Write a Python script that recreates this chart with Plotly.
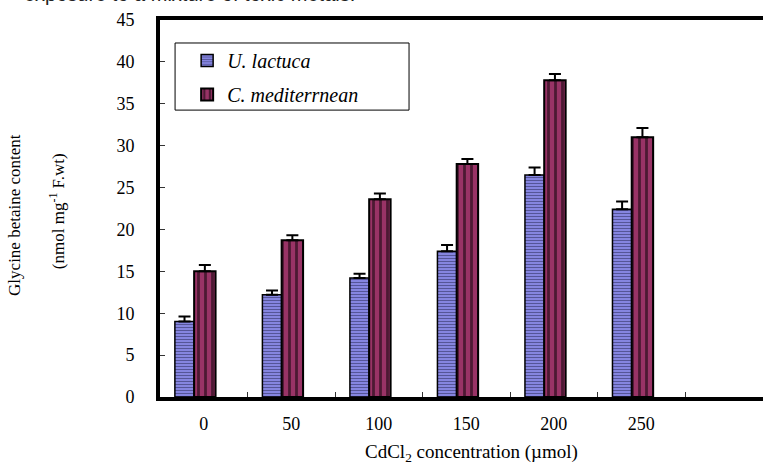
import plotly.graph_objects as go

# data
conc = ["0", "50", "100", "150", "200", "250"]
ulva = [9.0, 12.2, 14.2, 17.4, 26.5, 22.4]
ulva_err = [0.6, 0.5, 0.5, 0.75, 0.9, 0.95]
cystoseira = [15.0, 18.7, 23.6, 27.8, 37.8, 31.0]
cysto_err = [0.75, 0.6, 0.7, 0.6, 0.75, 1.1]

serif = "Liberation Serif"

fig = go.Figure([
    go.Bar(x=conc, y=ulva, name="U. lactuca",
           offset=-0.33, width=0.22,
           marker=dict(color="#8080dd", line=dict(color="black", width=1.5),
                       pattern=dict(shape="-", fgcolor="#262650",
                                    bgcolor="#8585e0", size=3, solidity=0.35)),
           error_y=dict(type="data", array=ulva_err, arrayminus=[0] * 6,
                        color="black", thickness=2, width=6),
           legendgroup="a"),
    go.Bar(x=conc, y=cystoseira, name="C. mediterrnean",
           offset=-0.11, width=0.245,
           marker=dict(color="#993366", line=dict(color="black", width=2),
                       pattern=dict(shape="|", fgcolor="black",
                                    bgcolor="#993366", size=7, solidity=0.4)),
           error_y=dict(type="data", array=cysto_err, arrayminus=[0] * 6,
                        color="black", thickness=2, width=6),
           legendgroup="b"),
])

fig.update_layout(
    width=763, height=470,
    margin=dict(l=160, r=0, t=20, b=73),
    plot_bgcolor="white", paper_bgcolor="white",
    barmode="overlay",
    font=dict(family=serif, size=18, color="black"),
    legend=dict(x=0.045, y=0.944, xanchor="left", yanchor="top",
                bgcolor="rgba(0,0,0,0)", borderwidth=0,
                font=dict(family=serif, size=20, style="italic"),
                tracegroupgap=5, itemwidth=30),
    shapes=[dict(type="rect", xref="paper", yref="paper",
                 x0=0.025, x1=0.413, y0=0.761, y1=0.939,
                 line=dict(color="black", width=1))],
)

fig.update_xaxes(
    type="category", range=[-0.5, 6.39],
    showline=True, mirror=True, linecolor="black", linewidth=4,
    ticks="inside", tickson="boundaries", ticklen=5, tickcolor="#333",
    tickwidth=1, ticklabelstandoff=7, showgrid=False,
    tickfont=dict(family=serif, size=18),
)
fig.update_yaxes(
    range=[0, 45], dtick=5,
    showline=True, mirror=False, linecolor="black", linewidth=4,
    ticks="inside", ticklen=5, tickcolor="#333", tickwidth=1,
    ticklabelstandoff=18, showgrid=False, zeroline=False,
    tickfont=dict(family=serif, size=18),
)

fig.add_annotation(text="CdCl<sub>2</sub> concentration (µmol)",
                   xref="paper", yref="paper", x=0.516, y=0,
                   xanchor="center", yanchor="top", yshift=-42,
                   showarrow=False, font=dict(family=serif, size=19))
fig.add_annotation(text="Glycine betaine content",
                   xref="paper", yref="paper", x=0, y=0.483, xshift=-145,
                   xanchor="center", yanchor="middle",
                   textangle=-90, showarrow=False,
                   font=dict(family=serif, size=17))
fig.add_annotation(text="(nmol mg<sup>-1</sup> F.wt)",
                   xref="paper", yref="paper", x=0, y=0.493, xshift=-103,
                   xanchor="center", yanchor="middle",
                   textangle=-90, showarrow=False,
                   font=dict(family=serif, size=17))
# caption line from the page above, cut off by the top edge
fig.add_annotation(text="exposure to a mixture of toxic metals.",
                   xref="paper", yref="paper", x=-0.229, y=1,
                   xanchor="left", yanchor="bottom", yshift=13,
                   showarrow=False,
                   font=dict(family="Liberation Sans", size=20, color="#222"))

# page body has a default 8px margin; drop it so the figure fills the window
fig.write_html("out.html", config={"displayModeBar": False},
               post_script="document.body.style.margin='0';")
